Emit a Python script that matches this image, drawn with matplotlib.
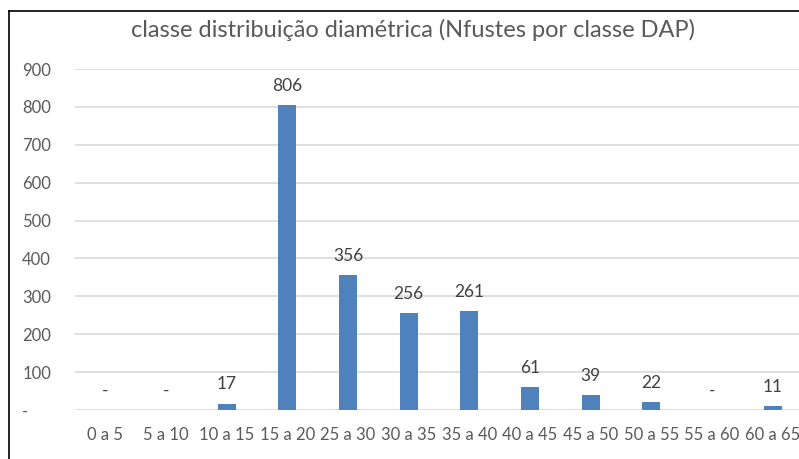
import matplotlib.pyplot as plt
from matplotlib.lines import Line2D

# --- Andmed ---
classes = ["0 a 5", "5 a 10", "10 a 15", "15 a 20", "25 a 30", "30 a 35",
           "35 a 40", "40 a 45", "45 a 50", "50 a 55", "55 a 60", "60 a 65"]
n_fustes = [0, 0, 17, 806, 356, 256, 261, 61, 39, 22, 0, 11]
y_ticks = [0, 100, 200, 300, 400, 500, 600, 700, 800, 900]
title = "classe distribuição diamétrica (Nfustes por classe DAP)"

plt.rcParams["font.family"] = ["Lato", "DejaVu Sans"]
gray = "#595959"

fig = plt.figure(figsize=(7.99, 4.59), dpi=100)
ax = fig.add_axes([75 / 799, 49 / 459, 728 / 799, 341 / 459])

x = range(len(classes))
ax.bar(x, n_fustes, width=0.3, color="#4F81BD", zorder=3)

for i, v in zip(x, n_fustes):
    lab = str(v) if v else "-"
    ax.annotate(lab, (i, v), xytext=(0, 8), textcoords="offset points",
                ha="center", va="bottom", fontsize=12.5, color="#404040")

ax.set_xlim(-0.5, len(classes) - 0.5)
ax.set_ylim(0, 900)
ax.set_yticks(y_ticks)
ax.set_yticklabels(["-"] + [str(t) for t in y_ticks[1:]])
ax.set_xticks(list(x))
ax.set_xticklabels(classes)
ax.tick_params(axis="both", length=0, labelsize=12, colors=gray)
ax.tick_params(axis="y", pad=38)
ax.tick_params(axis="x", pad=12)
for lbl in ax.get_yticklabels():
    lbl.set_horizontalalignment("left")
ax.yaxis.grid(True, color="#D9D9D9", linewidth=1.2, zorder=0)
for s in ax.spines.values():
    s.set_visible(False)

fig.text(413 / 799, 1 - 30 / 459, title, ha="center", va="center",
         fontsize=17, color=gray)

# raam
fig.add_artist(Line2D([9 / 799, 1], [1 - 11 / 459, 1 - 11 / 459], color="black", lw=1.2))
fig.add_artist(Line2D([9 / 799, 9 / 799], [0, 1 - 11 / 459], color="black", lw=1.2))

fig.savefig("out.png", dpi=100)
